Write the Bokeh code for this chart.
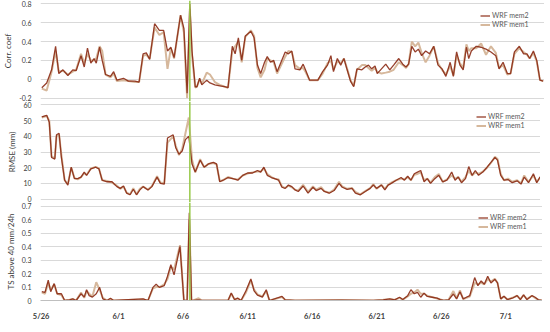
from bokeh.plotting import figure
from bokeh.layouts import column
from bokeh.models import Range1d, FixedTicker, Span, Legend, LegendItem
from bokeh.embed import file_html
from bokeh.resources import INLINE

# ---------------- data ----------------
tick_days = [0, 6, 11, 16, 21, 26, 31, 36]
tick_labels = ["5/26", "6/1", "6/6", "6/11", "6/16", "6/21", "6/26", "7/1"]
event_day = 11.52

corr_days = [0.05,0.43,0.81,1.12,1.37,1.69,2.07,2.45,2.71,3.09,3.34,3.59,3.85,4.10,4.27,4.53,4.73,4.99,5.37,5.62,
             5.87,6.38,6.76,7.27,7.59,7.90,8.15,8.41,8.79,9.16,9.49,9.79,10.05,10.30,10.80,11.06,11.31,11.52,11.69,11.94,
             12.07,12.28,12.45,12.83,13.08,13.46,13.84,14.22,14.48,14.81,15.03,15.28,15.54,15.82,16.25,16.50,16.76,17.01,17.31,17.52,
             17.77,18.02,18.28,18.91,19.16,19.42,19.67,20.05,20.30,20.48,20.80,21.44,21.81,22.19,22.45,22.65,22.95,23.21,23.46,23.71,
             23.97,24.22,24.47,24.85,25.11,25.36,25.61,25.87,
             26.04,26.37,26.70,27.01,27.31,27.71,28.02,28.27,28.47,28.72,28.98,29.23,29.48,29.79,30.09,30.42,30.75,31.06,31.36,31.69,
             31.94,32.19,32.45,32.70,32.95,33.13,33.33,33.71,34.09,34.47,34.85,35.23,35.48,35.79,36.12,36.37,36.67,37.05,37.38,37.64,
             37.85,38.14,38.40,38.65,38.90]
corr_mem2 = [-0.09,-0.04,0.10,0.35,0.06,0.10,0.04,0.10,0.09,0.25,0.13,0.33,0.17,0.22,0.17,0.34,0.20,0.05,0.03,0.08,
             -0.01,0.01,-0.02,-0.02,-0.03,0.27,0.28,0.21,0.59,0.52,0.52,0.30,0.34,0.23,0.68,0.54,-0.15,0.80,0.30,-0.08,
             -0.08,0.01,-0.06,-0.01,-0.04,-0.06,-0.07,-0.08,-0.09,0.35,0.27,0.44,0.20,0.46,0.51,0.44,0.15,0.06,0.18,0.24,
             0.18,0.20,0.08,0.29,0.27,0.30,0.11,0.10,0.16,0.10,-0.01,-0.01,0.08,0.15,0.25,0.08,0.22,0.15,0.22,0.10,
             -0.02,-0.08,0.11,0.10,0.13,0.15,0.11,0.14,
             0.06,0.11,0.16,0.10,0.15,0.22,0.16,0.13,0.16,0.35,0.29,0.32,0.25,0.30,0.27,0.35,0.15,0.11,0.03,0.18,
             0.03,0.29,0.15,0.10,0.34,0.22,0.30,0.35,0.34,0.32,0.29,0.25,0.11,0.18,0.06,0.06,0.29,0.35,0.27,0.27,
             0.22,0.30,0.20,-0.01,-0.02]
corr_mem1 = [-0.10,-0.12,0.08,0.30,0.08,0.09,0.05,0.08,0.10,0.27,0.17,0.27,0.20,0.20,0.22,0.35,0.30,0.05,0.02,0.06,
             -0.02,-0.01,-0.02,-0.03,-0.03,0.25,0.26,0.22,0.55,0.47,0.50,0.11,0.33,0.22,0.68,0.50,-0.20,0.75,0.25,-0.09,
             -0.08,0.00,-0.05,0.07,0.05,-0.03,-0.06,-0.08,-0.09,0.30,0.35,0.40,0.18,0.45,0.52,0.46,0.12,0.02,0.10,0.22,
             0.20,0.18,0.06,0.24,0.30,0.29,0.15,0.11,0.12,0.08,-0.01,-0.01,0.06,0.17,0.20,0.10,0.19,0.17,0.22,0.11,
             -0.01,-0.07,0.10,0.15,0.15,0.12,0.09,0.12,
             0.08,0.06,0.07,0.08,0.10,0.18,0.15,0.12,0.16,0.40,0.35,0.39,0.28,0.18,0.25,0.35,0.17,0.10,0.05,0.14,
             0.04,0.25,0.17,0.12,0.37,0.30,0.33,0.33,0.38,0.26,0.35,0.28,0.12,0.15,0.05,0.06,0.27,0.33,0.29,0.26,
             0.22,0.28,0.19,-0.01,-0.02]

rmse_days = [0.05,0.43,0.63,0.81,1.06,1.19,1.39,1.57,1.82,2.07,2.33,2.58,2.83,3.09,3.34,3.52,3.85,4.23,4.48,4.73,
             5.11,5.49,5.87,6.13,6.38,6.63,6.89,7.14,7.39,7.65,7.90,8.28,8.58,8.98,9.24,9.54,9.79,10.23,10.43,10.68,
             10.93,11.18,11.44,11.69,11.94,12.32,12.63,12.96,13.34,13.59,13.84,14.10,14.48,14.86,15.24,15.62,16.00,16.38,16.76,17.01,
             17.26,17.52,17.84,18.09,18.40,18.66,18.91,19.16,19.42,19.67,19.92,20.30,20.68,21.06,21.31,21.69,21.94,22.32,22.70,23.08,
             23.33,23.71,24.09,24.35,24.73,25.11,25.49,25.74,25.99,26.37,26.63,26.88,27.13,27.51,27.89,28.15,28.40,28.65,28.91,29.16,
             29.41,29.67,29.92,30.17,30.50,30.81,31.11,31.44,31.81,32.07,32.32,32.57,32.88,33.13,33.39,33.64,33.89,34.22,34.55,34.85,
             35.16,35.36,35.61,35.86,36.17,36.50,36.88,37.18,37.43,37.76,38.14,38.40,38.65,38.90]
rmse_mem2 = [52.4,53.4,49,26.5,25.5,41,42,26.5,12,8.9,20.3,13,13,14,17.2,15,19.2,20.3,19.2,12,
             11,11,7.9,6.8,8.3,3.7,2.7,6.2,2.7,5.8,7.9,5.8,7.9,14,10,9.5,38.9,41,32.7,28.6,
             30.6,37.9,40,22.3,17.2,24.8,20.3,22.4,23.4,22.4,11,12,13.7,13,12,15.1,16.6,16.6,18.2,17.2,
             20.3,15.1,13.7,13,12,7.5,6.8,8.9,7.9,5.8,4.8,8.3,3.7,7.5,5.4,6.8,4.8,3.7,5.4,10,
             7.5,6.2,6.8,3.7,2.7,4.8,6.8,8.9,6.8,8.9,5.8,8.9,10,12,13.7,12,14.5,12,16.1,17.2,
             18.2,11,13,10,13,15.1,11,12,17.2,12,14,10.4,13,20.7,15.1,18.2,15.1,17.2,20.3,23.4,
             26.5,24.8,15.1,12,12.4,10.4,11.6,9.5,14,10.4,16.1,10.4,14,13.7]
rmse_mem1 = [52,53,50,27,26,40,41,28,12,9.5,20,13.5,12.5,14,16.5,15.5,19.5,20.5,19.5,12,
             11.5,10.5,8.5,6.5,8,4,3,6.8,3,6.5,8,6,8.2,14.5,10.5,10,36,40,34,28,
             32,42,52,25,17,25.4,20.3,22.4,23,22,11.5,12,14,13,12.5,15,16.3,17,17.5,17.5,
             19.5,16,14,13,12.5,8,7,8.5,7.5,6,5.5,9,4.5,8,6,7.5,5,4,6,11,
             8,6.5,7,4.5,3,5,7,9.5,6.5,9,6.5,9,10.5,12,13,12.5,14,12,15.5,16,
             17,12,13,10.5,14,16,11,12.5,15,13,14,11,14,18,15,17,16,17.5,20,23,
             27,25.5,16,12,13,11,12,10,15,11,15,11,13.5,13.5]

ts_days = [0.05,0.30,0.55,0.74,1.01,1.24,1.57,1.82,2.20,2.45,2.71,3.09,3.34,3.52,3.72,3.97,4.27,4.53,4.78,5.11,
           5.37,5.62,7.90,8.28,8.66,8.91,9.16,9.54,9.79,10.05,10.30,10.76,11.06,11.31,11.48,11.65,11.78,12.20,12.45,14.48,
           14.73,14.98,15.24,15.49,15.87,16.25,16.50,16.76,17.14,17.44,17.69,18.66,18.91,19.67,23.21,25.74,26.50,27.01,27.39,27.77,
           28.02,28.40,28.65,28.91,29.16,29.41,29.67,29.92,30.30,30.68,30.93,31.19,31.57,31.94,32.19,32.45,32.70,32.95,33.21,33.59,
           33.84,34.09,34.34,34.60,34.85,35.16,35.36,35.61,35.86,36.12,36.50,36.88,37.13,37.38,37.64,38.02,38.27,38.52,38.78,38.90]
ts_mem2 = [0.065,0.06,0.15,0.065,0.125,0.05,0.05,0,0.005,0.012,0,0.05,0.025,0.08,0.036,0.025,0.05,0.097,0.012,0,
           0.017,0,0.012,0,0.097,0.12,0.097,0.11,0.18,0.265,0.19,0.40,0,0,0.65,0,0,0.005,0,0,
           0.055,0.007,0.017,0,0.072,0.16,0.072,0.04,0.025,0.08,0,0.031,0.005,0,0.003,0,0.005,0.012,0.005,0.024,
           0.007,0.036,0.08,0.05,0.06,0.024,0.055,0.03,0.024,0.017,0.007,0,0.005,0.048,0.012,0.065,0.012,0.024,0.036,0.17,
           0.11,0.145,0.12,0.18,0.13,0.157,0.13,0.012,0.031,0.007,0.017,0.036,0.007,0.041,0.007,0.036,0.024,0.005,0,0]
ts_mem1 = [0.06,0.05,0.13,0.08,0.12,0.05,0.04,0,0.005,0.01,0,0.06,0.02,0.07,0.05,0.03,0.135,0.08,0.02,0,
           0.01,0,0.008,0,0.09,0.10,0.10,0.12,0.16,0.25,0.23,0.41,0,0,0.60,0,0,0.017,0,0,
           0.05,0.01,0.015,0,0.06,0.15,0.08,0.045,0.03,0.07,0,0.025,0.005,0,0.003,0,0.005,0.01,0.005,0.02,
           0.007,0.03,0.05,0.06,0.08,0.05,0.05,0.035,0.025,0.015,0.007,0,0.005,0.07,0.015,0.075,0.01,0.02,0.03,0.13,
           0.12,0.13,0.12,0.16,0.14,0.16,0.13,0.012,0.03,0.007,0.02,0.035,0.01,0.04,0.01,0.035,0.02,0.005,0,0]

corr_ticks = [-0.2, 0, 0.2, 0.4, 0.6, 0.8]
corr_tick_labels = ["-0.2", "0", "0.2", "0.4", "0.6", "0.8"]
rmse_ticks = [0, 10, 20, 30, 40, 50, 60]
rmse_tick_labels = ["0", "10", "20", "30", "40", "50", "60"]
ts_ticks = [0, 0.1, 0.2, 0.3, 0.4, 0.5, 0.6, 0.7]
ts_tick_labels = ["0", "0.1", "0.2", "0.3", "0.4", "0.5", "0.6", "0.7"]

# ---------------- styling ----------------
FONT = "Lato"
C_MEM2 = "#8b2a14"
C_MEM1 = "#d6b89c"
C_EVENT = "#98c94a"
TXT = "#404040"
FRAME_W = 504

x_range = Range1d(-0.05, 39.0)


def panel(xs, m2, m1, yr, yticks, ylabels, ylabel, frame_h, show_x):
    p = figure(frame_width=FRAME_W, frame_height=frame_h, x_range=x_range,
               y_range=Range1d(*yr), output_backend="svg", toolbar_location=None,
               x_axis_location="below" if show_x else None,
               min_border_left=29, min_border_right=0, min_border_top=0, min_border_bottom=0)
    p.outline_line_color = None
    p.background_fill_color = "white"
    p.border_fill_color = "white"
    p.xgrid.visible = False
    p.ygrid.ticker = FixedTicker(ticks=yticks)
    p.ygrid.grid_line_color = "#d9d9d9"
    p.ygrid.grid_line_width = 1

    ax = p.yaxis[0]
    ax.ticker = FixedTicker(ticks=yticks)
    ax.major_label_overrides = dict(zip(yticks, ylabels))
    ax.axis_line_color = None
    ax.major_tick_line_color = None
    ax.minor_tick_line_color = None
    ax.major_label_text_font = FONT
    ax.major_label_text_font_size = "7px"
    ax.major_label_text_color = TXT
    ax.major_label_standoff = 3
    ax.axis_label = ylabel
    ax.axis_label_text_font = FONT
    ax.axis_label_text_font_size = "8px"
    ax.axis_label_text_font_style = "normal"
    ax.axis_label_text_color = TXT
    ax.axis_label_standoff = 3

    if show_x:
        xa = p.xaxis[0]
        xa.ticker = FixedTicker(ticks=tick_days)
        xa.major_label_overrides = dict(zip(tick_days, tick_labels))
        xa.axis_line_color = "#bfbfbf"
        xa.major_tick_line_color = None
        xa.minor_tick_line_color = None
        xa.major_label_text_font = FONT
        xa.major_label_text_font_size = "7.5px"
        xa.major_label_text_font_style = "bold"
        xa.major_label_text_color = TXT
        xa.major_label_standoff = 5

    r1 = p.line(xs, m1, line_color=C_MEM1, line_width=2.0)
    r2 = p.line(xs, m2, line_color=C_MEM2, line_width=1.3, line_alpha=0.9)

    p.add_layout(Span(location=event_day, dimension="height",
                      line_color=C_EVENT, line_width=1.5))

    leg = Legend(items=[LegendItem(label="WRF mem2", renderers=[r2]),
                        LegendItem(label="WRF mem1", renderers=[r1])],
                 location=(440, frame_h - 28))
    leg.label_text_font = FONT
    leg.label_text_font_size = "7px"
    leg.label_text_color = "#595959"
    leg.glyph_width = 10
    leg.glyph_height = 7
    leg.label_height = 7
    leg.label_standoff = 2
    leg.spacing = 1
    leg.padding = 2
    leg.margin = 0
    leg.background_fill_alpha = 0
    leg.border_line_color = None
    p.add_layout(leg)
    return p


p1 = panel(corr_days, corr_mem2, corr_mem1, (-0.237, 0.837), corr_ticks, corr_tick_labels,
           "Corr. coef", 101, False)
p2 = panel(rmse_days, rmse_mem2, rmse_mem1, (-2.23, 62.23), rmse_ticks, rmse_tick_labels,
           "RMSE (mm)", 101, False)
p3 = panel(ts_days, ts_mem2, ts_mem1, (0, 0.726), ts_ticks, ts_tick_labels,
           "TS above 40 mm/24h", 98, True)

layout = column(p1, p2, p3, spacing=0)
open("out.html", "w").write(file_html(layout, INLINE))
